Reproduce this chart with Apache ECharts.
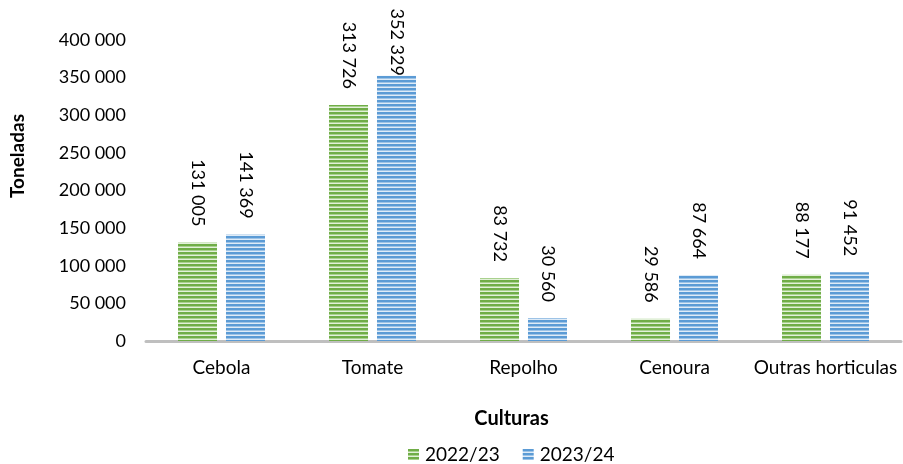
<!DOCTYPE html>
<html>
<head>
<meta charset="utf-8">
<script src="https://cdn.jsdelivr.net/npm/echarts@6/dist/echarts.min.js"></script>
<style>html,body{margin:0;padding:0;background:#fff}#c{width:903px;height:464px}</style>
</head>
<body>
<div id="c"></div>
<script>
var categories = ['Cebola', 'Tomate', 'Repolho', 'Cenoura', 'Outras horticulas'];
var series2022 = [131005, 313726, 83732, 29586, 88177];
var series2023 = [141369, 352329, 30560, 87664, 91452];
var seriesNames = ['2022/23', '2023/24'];

function stripe(dark, mid, light) {
  var c = document.createElement('canvas');
  c.width = 4; c.height = 4;
  var g = c.getContext('2d');
  g.fillStyle = dark; g.fillRect(0, 0, 4, 2);
  g.fillStyle = mid; g.fillRect(0, 2, 4, 1);
  g.fillStyle = light; g.fillRect(0, 3, 4, 1);
  return { image: c, repeat: 'repeat' };
}
var greenPat = stripe('#70AD47', '#A9D18E', '#E2F0D9');
var bluePat = stripe('#5B9BD5', '#9DC3E6', '#DEEBF7');

function fmt(v) {
  return String(v).replace(/\B(?=(\d{3})+(?!\d))/g, ' ');
}
var FONT = 'Lato';
var chart = echarts.init(document.getElementById('c'), null, { renderer: 'canvas' });
var labelCfg = {
  show: true, position: 'top', rotate: -90, align: 'right', verticalAlign: 'middle',
  distance: 16, color: '#000', fontFamily: FONT, fontSize: 18,
  formatter: function (p) { return fmt(p.value); }
};
// the tallest label is pulled down onto its bar so it fits in the chart
var maxVal = Math.max.apply(null, series2022.concat(series2023));
function items(arr) {
  return arr.map(function (v) {
    return v === maxVal ? { value: v, label: { distance: 0 } } : v;
  });
}
chart.setOption({
  animation: false,
  grid: { left: 146, right: 2, top: 40, bottom: 123, containLabel: false, outerBoundsMode: 'none' },
  legend: {
    data: [
      { name: seriesNames[0], itemStyle: { color: greenPat } },
      { name: seriesNames[1], itemStyle: { color: bluePat } }
    ],
    top: 440, left: 403, itemWidth: 11, itemHeight: 11, itemGap: 23, icon: 'rect',
    textStyle: { fontFamily: FONT, fontSize: 19, color: '#000', padding: [0, 0, 0, 1] }
  },
  graphic: [{
    type: 'text', left: 8, top: 114, rotation: Math.PI / 2,
    style: { text: 'Toneladas', fontFamily: FONT, fontSize: 19, fontWeight: 'bold', fill: '#000' }
  }],
  xAxis: {
    type: 'category', data: categories,
    axisLine: { lineStyle: { color: '#BFBFBF', width: 3 } },
    axisTick: { show: false },
    axisLabel: { color: '#000', fontFamily: FONT, fontSize: 19, margin: 17, interval: 0 },
    name: 'Culturas', nameLocation: 'middle', nameGap: 68,
    nameTextStyle: { fontFamily: FONT, fontSize: 20, fontWeight: 'bold', color: '#000', padding: [0, 24, 0, 0] }
  },
  yAxis: {
    type: 'value', min: 0, max: 400000, interval: 50000,
    axisLine: { show: false }, axisTick: { show: false }, splitLine: { show: false },
    axisLabel: { color: '#000', fontFamily: FONT, fontSize: 18, margin: 20, formatter: fmt }
  },
  series: [
    { name: seriesNames[0], type: 'bar', data: items(series2022), barWidth: 39, barGap: '23%',
      itemStyle: { color: greenPat }, label: labelCfg },
    { name: seriesNames[1], type: 'bar', data: items(series2023), barWidth: 39, barGap: '23%',
      itemStyle: { color: bluePat }, label: labelCfg }
  ]
});
</script>
</body>
</html>
